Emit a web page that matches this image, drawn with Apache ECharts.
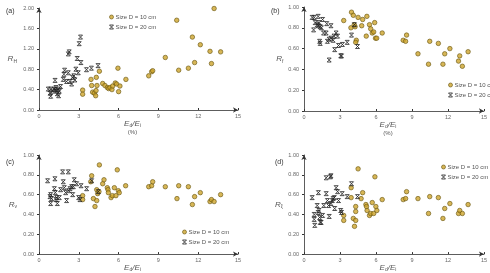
<!DOCTYPE html>
<html>
<head>
<meta charset="utf-8">
<script src="https://cdn.jsdelivr.net/npm/echarts@6/dist/echarts.min.js"></script>
<style>
  html, body { margin: 0; padding: 0; background: #fff; }
  #chart { width: 490px; height: 273px; }
</style>
</head>
<body>
<div id="chart"></div>
<script>
// E_d/E_i (%) vs ratio, two specimen sizes, four panels
const seriesNames = ['Size D = 10 cm', 'Size D = 20 cm'];
const xTicks = [0, 3, 6, 9, 12, 15];

// (a) R_H
const a10 = [[3.29,0.39],[3.29,0.31],[3.92,0.60],[3.97,0.48],[4.04,0.35],[4.17,0.33],[4.27,0.28],[4.30,0.38],[4.32,0.64],[4.37,0.48],[4.55,0.76],[4.80,0.52],[4.97,0.48],[5.15,0.44],[5.25,0.42],[5.35,0.44],[5.50,0.40],[5.55,0.47],[5.75,0.53],[5.85,0.51],[5.95,0.82],[6.00,0.36],[6.10,0.47],[6.55,0.60],[8.27,0.67],[8.49,0.75],[8.57,0.77],[9.52,1.03],[10.38,1.76],[10.53,0.78],[11.26,0.82],[11.56,1.43],[11.73,0.93],[12.16,1.28],[12.89,1.15],[13.00,0.91],[13.20,1.99],[13.69,1.14]];
const a20 = [[0.70,0.41],[0.88,0.41],[0.83,0.33],[0.88,0.27],[1.03,0.37],[1.13,0.41],[1.23,0.40],[1.28,0.44],[1.33,0.37],[1.38,0.32],[1.46,0.41],[1.48,0.28],[1.53,0.37],[1.63,0.46],[1.21,0.58],[1.83,0.60],[1.88,0.70],[1.93,0.78],[2.08,0.56],[2.21,0.73],[2.21,1.10],[2.28,1.14],[2.33,0.56],[2.46,0.51],[2.53,0.64],[2.63,0.67],[2.71,0.59],[2.78,0.80],[2.88,1.01],[2.96,0.73],[3.03,1.30],[3.13,1.43],[3.16,0.93],[3.58,0.79],[3.95,0.82],[4.45,0.87]];

// (b) R_f
const b10 = [[3.31,0.87],[3.96,0.95],[4.11,0.92],[3.91,0.80],[4.26,0.81],[4.19,0.83],[4.36,0.68],[4.31,0.66],[4.51,0.90],[4.81,0.82],[4.89,0.88],[5.19,0.72],[5.24,0.91],[5.46,0.83],[5.56,0.79],[5.69,0.75],[5.81,0.76],[5.89,0.85],[5.96,0.70],[6.06,0.70],[6.52,0.75],[8.27,0.68],[8.47,0.67],[8.55,0.73],[9.50,0.55],[10.38,0.45],[10.48,0.67],[11.20,0.65],[11.58,0.45],[11.73,0.55],[12.16,0.60],[12.88,0.48],[12.98,0.53],[13.20,0.43],[13.68,0.57]];
const b20 = [[0.68,0.90],[0.85,0.90],[1.18,0.91],[0.93,0.85],[1.10,0.83],[0.80,0.78],[1.25,0.85],[1.35,0.81],[1.45,0.80],[1.55,0.88],[1.18,0.82],[1.30,0.67],[1.35,0.65],[1.63,0.75],[1.85,0.75],[1.90,0.84],[1.95,0.67],[2.10,0.69],[2.10,0.49],[2.25,0.82],[2.25,0.70],[2.43,0.68],[2.56,0.59],[2.50,0.72],[2.68,0.75],[2.80,0.72],[2.88,0.63],[3.06,0.53],[3.13,0.53],[3.20,0.64],[3.60,0.66],[3.96,0.73],[4.20,0.83],[4.46,0.62]];

// (c) R_v
const c10 = [[3.29,0.59],[3.29,0.55],[3.90,0.73],[3.97,0.79],[4.10,0.56],[4.22,0.48],[4.35,0.54],[4.35,0.65],[4.42,0.61],[4.52,0.63],[4.55,0.90],[4.80,0.71],[4.90,0.75],[5.15,0.67],[5.20,0.65],[5.23,0.62],[5.43,0.57],[5.53,0.59],[5.68,0.67],[5.80,0.59],[5.90,0.85],[5.98,0.64],[6.05,0.62],[6.53,0.69],[8.27,0.68],[8.49,0.69],[8.57,0.73],[9.52,0.68],[10.40,0.56],[10.53,0.69],[11.26,0.68],[11.56,0.50],[11.73,0.58],[12.16,0.62],[12.89,0.53],[13.00,0.55],[13.20,0.53],[13.69,0.60]];
const c20 = [[0.65,0.74],[0.83,0.58],[0.88,0.60],[0.88,0.51],[0.95,0.56],[1.16,0.66],[1.20,0.76],[1.23,0.62],[1.28,0.55],[1.33,0.57],[1.38,0.51],[1.53,0.57],[1.63,0.65],[1.78,0.83],[1.83,0.73],[1.91,0.67],[2.01,0.62],[2.08,0.54],[2.21,0.83],[2.24,0.64],[2.34,0.66],[2.46,0.68],[2.54,0.60],[2.59,0.68],[2.66,0.75],[2.84,0.71],[2.99,0.57],[3.09,0.55],[3.17,0.69],[3.59,0.66],[3.97,0.74],[4.47,0.63]];

// (d) R_xi
const d10 = [[3.31,0.39],[3.31,0.34],[3.93,0.67],[3.93,0.57],[4.11,0.36],[4.21,0.28],[4.31,0.34],[4.31,0.43],[4.31,0.48],[4.51,0.86],[4.76,0.56],[4.89,0.62],[5.16,0.50],[5.21,0.48],[5.26,0.44],[5.46,0.39],[5.56,0.41],[5.69,0.52],[5.81,0.41],[5.91,0.78],[5.99,0.48],[6.07,0.44],[6.52,0.55],[8.27,0.55],[8.47,0.56],[8.55,0.63],[9.50,0.56],[10.38,0.41],[10.48,0.58],[11.20,0.57],[11.58,0.36],[11.73,0.46],[12.16,0.51],[12.88,0.41],[12.98,0.44],[13.20,0.41],[13.68,0.50]];
const d20 = [[0.68,0.57],[0.85,0.40],[0.85,0.35],[0.90,0.29],[1.10,0.49],[1.20,0.62],[1.18,0.42],[1.25,0.44],[1.30,0.37],[1.35,0.32],[1.43,0.32],[1.55,0.39],[1.65,0.49],[1.85,0.77],[1.85,0.61],[1.95,0.54],[2.05,0.49],[2.10,0.38],[2.20,0.78],[2.25,0.79],[2.25,0.51],[2.36,0.54],[2.43,0.56],[2.53,0.57],[2.56,0.46],[2.68,0.67],[2.80,0.63],[2.88,0.54],[3.06,0.44],[3.13,0.42],[3.18,0.61],[3.60,0.58],[3.96,0.71],[4.46,0.58]];

const panels = [
  { tag: '(a)', sub: 'H', yMax: 2, yStep: 0.4, pct: true, d10: a10, d20: a20,
    grid: { left: 39, top: 8, width: 199, height: 102 }, nameGap: 22,
    legend: { left: 104, top: 9 }, tagPos: [1, 3] },
  { tag: '(b)', sub: 'f', yMax: 1, yStep: 0.2, pct: true, d10: b10, d20: b20,
    grid: { left: 304, top: 7, width: 200, height: 104 }, nameGap: 18,
    legend: { left: 443, top: 77 }, tagPos: [266, 3] },
  { tag: '(c)', sub: 'v', yMax: 1, yStep: 0.2, pct: false, d10: c10, d20: c20,
    grid: { left: 39, top: 155, width: 199, height: 102 }, nameGap: 22,
    legend: { left: 177, top: 224 }, tagPos: [1, 154] },
  { tag: '(d)', sub: 'ξ', yMax: 1, yStep: 0.2, pct: false, d10: d10, d20: d20,
    grid: { left: 304, top: 155, width: 200, height: 103 }, nameGap: 21,
    legend: { left: 436, top: 159 }, tagPos: [270, 154] },
];

const crossSymbol = 'path://M0,0L10,0L0,10L10,10Z';
const labelColor = '#666';
const axisColor = '#333';
const dotStyle = { color: '#cda42c', borderColor: '#6a5712', borderWidth: 0.8 };
const crossStyle = { color: 'rgba(0,0,0,0)', borderColor: '#222', borderWidth: 1 };

const rich = {
  i: { fontStyle: 'italic', fontSize: 8, color: '#555' },
  s: { fontSize: 5, color: '#555', verticalAlign: 'bottom', padding: [5, 0, 0, 0] },
  p: { fontSize: 6, color: '#555', align: 'center' },
};

const option = {
  animation: false,
  textStyle: { fontFamily: 'Liberation Sans, Arial, sans-serif' },
  grid: panels.map(p => p.grid),
  title: panels.map(p => ({
    text: p.tag,
    left: p.tagPos[0],
    top: p.tagPos[1],
    textStyle: { fontSize: 7, fontWeight: 'normal', color: '#333' },
  })),
  legend: panels.map(p => ({
    data: [
      { name: seriesNames[0], icon: 'circle', itemStyle: dotStyle },
      { name: seriesNames[1], icon: crossSymbol, itemStyle: crossStyle },
    ],
    orient: 'vertical',
    left: p.legend.left,
    top: p.legend.top,
    itemWidth: 4,
    itemHeight: 4,
    itemGap: 4,
    selectedMode: false,
    textStyle: { fontSize: 6, color: '#555', padding: [0, 0, 0, -3] },
  })),
  xAxis: panels.map((p, i) => ({
    type: 'value',
    gridIndex: i,
    min: 0,
    max: 15,
    interval: 3,
    name: p.pct ? '{i|E}{s|d}{i|/E}{s|i}\n{p|(%)}' : '{i|E}{s|d}{i|/E}{s|i}',
    nameLocation: 'middle',
    nameGap: 5,
    nameTextStyle: { rich, padding: [0, 12, 0, 0], lineHeight: 8 },
    splitLine: { show: false },
    axisLine: { lineStyle: { color: axisColor, width: 0.8 }, symbol: ['none', 'arrow'], symbolSize: [4, 5] },
    axisTick: { inside: true, length: 2, lineStyle: { color: axisColor } },
    axisLabel: { fontSize: 5.5, color: labelColor, margin: 3, customValues: xTicks },
  })),
  yAxis: panels.map((p, i) => ({
    type: 'value',
    gridIndex: i,
    min: 0,
    max: p.yMax,
    interval: p.yStep,
    name: '{i|R}{s|' + p.sub + '}',
    nameLocation: 'middle',
    nameRotate: 0,
    nameGap: p.nameGap,
    nameTextStyle: { rich },
    splitLine: { show: false },
    axisLine: { show: true, lineStyle: { color: axisColor, width: 0.8 }, symbol: ['none', 'arrow'], symbolSize: [4, 5] },
    axisTick: { show: true, length: 2, lineStyle: { color: axisColor } },
    axisLabel: { fontSize: 5.5, color: labelColor, margin: 5, formatter: v => v.toFixed(2) },
  })),
  series: [],
};

panels.forEach((p, i) => {
  option.series.push({
    name: seriesNames[0],
    type: 'scatter',
    xAxisIndex: i,
    yAxisIndex: i,
    symbol: 'circle',
    symbolSize: 4.5,
    itemStyle: dotStyle,
    data: p.d10,
  });
  option.series.push({
    name: seriesNames[1],
    type: 'scatter',
    xAxisIndex: i,
    yAxisIndex: i,
    symbol: crossSymbol,
    symbolSize: 4,
    itemStyle: crossStyle,
    data: p.d20,
  });
});

const chart = echarts.init(document.getElementById('chart'));
chart.setOption(option);
</script>
</body>
</html>
